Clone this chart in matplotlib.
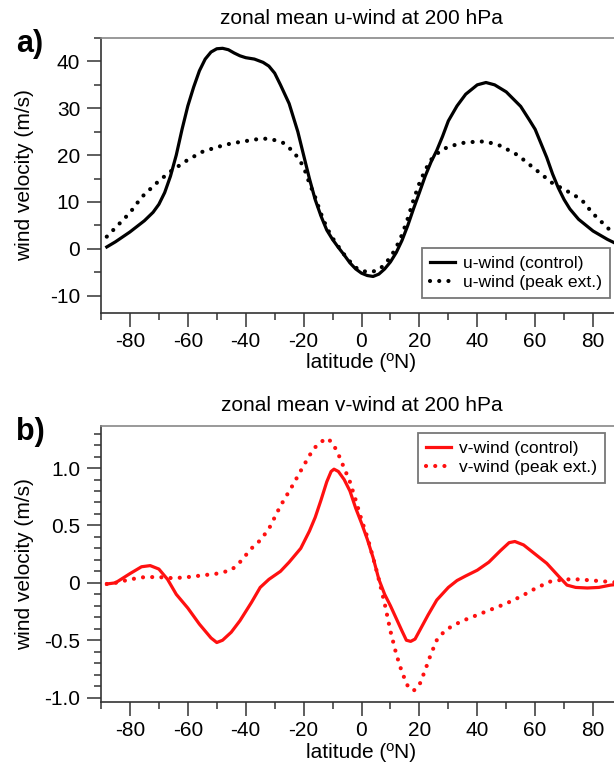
import matplotlib
matplotlib.use("Agg")
import matplotlib.pyplot as plt
from matplotlib.ticker import MultipleLocator, FixedLocator, FixedFormatter

plt.rcParams['font.family'] = ['Liberation Sans', 'DejaVu Sans']
plt.rcParams['axes.unicode_minus'] = False

# ---------------- data ----------------
lat_u_ctrl = [-88, -85, -80, -75, -72, -70, -68, -66, -64, -62, -60, -58, -56, -54, -52, -50,
              -48, -46, -44, -42, -40, -37, -34, -32, -30, -28, -25, -22, -20, -18, -16, -14,
              -12, -10, -8, -6, -4, -2, 0, 2, 4, 6, 8, 10, 12, 14, 16, 18, 20, 22, 24, 26, 28,
              30, 33, 36, 40, 43, 46, 50, 55, 58, 60, 62, 64, 66, 68, 70, 72, 75, 80, 85, 90]
u_ctrl = [0.4, 1.5, 3.6, 6.0, 7.8, 9.5, 12, 15.5, 20, 25.5, 30.5, 34.5, 38, 40.5, 42, 42.7,
          42.8, 42.5, 41.8, 41.2, 40.8, 40.5, 39.8, 39, 37.5, 35, 31, 25, 20, 15, 10.5, 7,
          4, 2, 0.3, -1.3, -3, -4.3, -5.2, -5.7, -5.9, -5.4, -4.3, -2.8, -0.8, 1.8, 5, 8.6,
          12, 15.5, 18.5, 21, 24, 27.3, 30.5, 33, 35, 35.5, 35, 33.5, 30.4, 27.5, 25.5, 22.5,
          19.5, 16, 13, 10.5, 8.5, 6.3, 3.8, 2, 0.5]

lat_u_peak = [-88, -85, -80, -76, -70, -66, -60, -55, -50, -45, -40, -35, -32, -30, -27,
              -24, -22, -20, -18, -16, -14, -12, -10, -8, -6, -4, -2, 0, 3, 6, 8, 10, 12, 14,
              16, 18, 20, 22, 24, 27, 30, 35, 40, 43, 48, 54, 60, 66, 72, 76, 80, 85, 90]
u_peak = [2.6, 4.5, 7.7, 11, 14.5, 16.5, 19, 20.7, 21.7, 22.5, 23, 23.5, 23.5, 23.2, 22.6,
          21, 19.5, 17.5, 14, 11, 7.5, 4.5, 2.3, 0.5, -1.2, -2.7, -4, -4.7, -5, -4.5, -3.3,
          -1.8, 0.3, 3, 6.5, 10.5, 14, 16.8, 19, 20.8, 21.8, 22.6, 22.9, 22.9, 22, 20, 17,
          14, 12, 10.5, 7.5, 4.5, 1.5]

lat_v_ctrl = [-88, -85, -80, -76, -73, -70, -67, -64, -60, -56, -52, -50, -48, -45, -42,
              -38, -35, -32, -28, -25, -21, -18, -16, -14, -12, -10.5, -9.5, -8, -6, -4, -2,
              0, 2, 4, 6, 8, 10, 12, 14, 15.5, 17, 18.5, 20, 23, 26, 30, 33, 36, 40, 44, 48,
              51, 53, 56, 60, 64, 68, 71, 74, 78, 82, 86, 90]
v_ctrl = [-0.01, 0.0, 0.08, 0.14, 0.15, 0.12, 0.03, -0.1, -0.22, -0.36, -0.48, -0.52, -0.5,
          -0.43, -0.33, -0.17, -0.04, 0.03, 0.1, 0.18, 0.3, 0.45, 0.57, 0.72, 0.88, 0.97, 0.99,
          0.97, 0.9, 0.8, 0.65, 0.52, 0.38, 0.22, 0.03, -0.1, -0.2, -0.31, -0.42, -0.5, -0.51,
          -0.49, -0.42, -0.28, -0.15, -0.04, 0.02, 0.06, 0.11, 0.18, 0.28, 0.35, 0.36, 0.33,
          0.25, 0.17, 0.06, -0.02, -0.04, -0.045, -0.04, -0.02, -0.01]

lat_v_peak = [-88, -85, -80, -75, -70, -65, -60, -55, -50, -45, -42, -38, -35, -32, -28,
              -24, -20, -17, -15, -12, -10, -8, -6, -4, -2, 0, 2, 4, 6, 8, 10, 12, 14, 16,
              18, 20, 22, 24, 26, 28, 31, 35, 38, 42, 46, 50, 55, 60, 65, 70, 75, 80, 85, 90]
v_peak = [-0.01, 0.0, 0.03, 0.05, 0.05, 0.04, 0.05, 0.065, 0.08, 0.11, 0.18, 0.3, 0.37, 0.47,
          0.67, 0.84, 1.02, 1.15, 1.21, 1.26, 1.22, 1.12, 1.0, 0.88, 0.72, 0.55, 0.4, 0.22, 0.03,
          -0.18, -0.42, -0.62, -0.78, -0.9, -0.94, -0.89, -0.76, -0.62, -0.5, -0.44, -0.38, -0.33,
          -0.3, -0.26, -0.22, -0.18, -0.12, -0.05, 0.01, 0.03, 0.03, 0.02, 0.01, 0.0]

titles = ["zonal mean u-wind at 200 hPa", "zonal mean v-wind at 200 hPa"]
panel_tags = ["a)", "b)"]
labels_u = ["u-wind (control)", "u-wind (peak ext.)"]
labels_v = ["v-wind (control)", "v-wind (peak ext.)"]
xticks = [-80, -60, -40, -20, 0, 20, 40, 60, 80]
yticks_b = [-1.0, -0.5, 0, 0.5, 1.0]
yticklabels_b = ["-1.0", "-0.5", "0", "0.5", "1.0"]

# ---------------- figure ----------------
W, H = 614, 767
fig = plt.figure(figsize=(W / 100, H / 100), dpi=100)

def px_axes(left, top, right, bottom):
    return fig.add_axes([left / W, 1 - bottom / H, (right - left) / W, (bottom - top) / H])

axa = px_axes(101, 38, 622, 313)
axb = px_axes(101, 426, 622, 702)

DOT = (0, (0.01, 2.2))
FS = 15

def style(ax):
    ax.set_xlim(-90, 90)
    ax.xaxis.set_major_locator(FixedLocator(xticks))
    ax.xaxis.set_minor_locator(MultipleLocator(10))
    ax.tick_params(which='major', direction='out', length=10, width=1.1, labelsize=FS,
                   color='#333333', pad=4)
    ax.tick_params(which='minor', direction='out', length=5, width=1.1, color='#333333')
    ax.tick_params(axis='y', which='major', pad=5)
    for s in ['left', 'bottom']:
        ax.spines[s].set_color('#333333')
        ax.spines[s].set_linewidth(1.2)
    ax.spines['top'].set_color('#888888')
    ax.spines['top'].set_linewidth(1.2)
    ax.spines['right'].set_visible(False)

# panel a
axa.plot(lat_u_ctrl, u_ctrl, color='black', lw=2.3, label=labels_u[0])
axa.plot(lat_u_peak, u_peak, color='black', lw=3.0, linestyle=DOT, dash_capstyle='round',
         label=labels_u[1])
axa.set_ylim(-13.7, 45)
axa.yaxis.set_major_locator(MultipleLocator(10))
axa.yaxis.set_minor_locator(MultipleLocator(5))
style(axa)

# panel b
axb.plot(lat_v_ctrl, v_ctrl, color='#ff1010', lw=2.3, label=labels_v[0])
axb.plot(lat_v_peak, v_peak, color='#ff1010', lw=3.0, linestyle=DOT, dash_capstyle='round',
         label=labels_v[1])
axb.set_ylim(-1.038, 1.366)
axb.yaxis.set_major_locator(FixedLocator(yticks_b))
axb.yaxis.set_major_formatter(FixedFormatter(yticklabels_b))
axb.yaxis.set_minor_locator(MultipleLocator(0.1))
style(axb)

for ax, top in [(axa, 248), (axb, 433)]:
    left = 422 if ax is axa else 418
    leg = ax.legend(loc='upper left', bbox_to_anchor=(left / W, 1 - top / H),
                    bbox_transform=fig.transFigure, borderaxespad=0, fontsize=12.6,
                    frameon=True, fancybox=False, framealpha=1, handlelength=1.45,
                    handletextpad=0.45, borderpad=0.45, labelspacing=0.2)
    leg.get_frame().set_edgecolor('#777777')
    leg.get_frame().set_linewidth(1.3)

# texts
for (tit, tag, top, bottom) in [(titles[0], panel_tags[0], 38, 313), (titles[1], panel_tags[1], 426, 702)]:
    fig.text(361.5 / W, 1 - (top - 20) / H, tit, ha='center', va='center', fontsize=FS)
    fig.text(30 / W, 1 - (top + 6) / H, tag, ha='center', va='center', fontsize=22,
             fontweight='bold')
    fig.text(25 / W, 1 - ((top + bottom) / 2) / H, "wind velocity (m/s)", rotation=90,
             ha='center', va='center', fontsize=FS)
    fig.text(361.5 / W, 1 - (bottom + 50) / H, "latitude (ºN)", ha='center', va='center',
             fontsize=FS)

fig.savefig("out.png", dpi=100)
